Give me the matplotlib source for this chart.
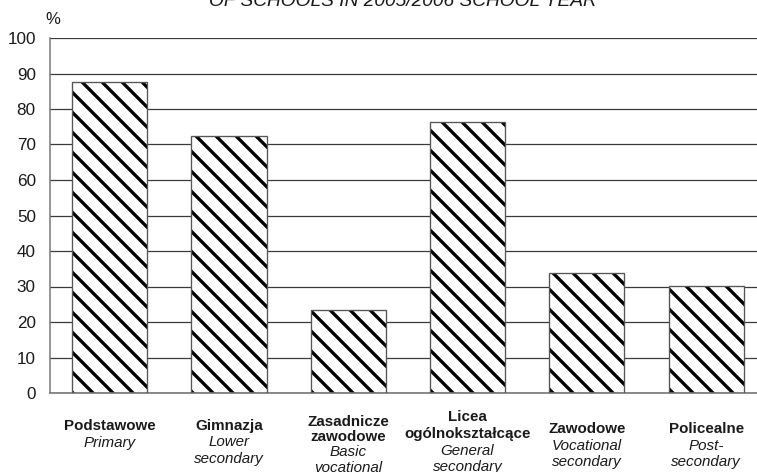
import matplotlib
matplotlib.use("Agg")
import matplotlib.pyplot as plt
from matplotlib.transforms import blended_transform_factory

# ---- data ----
categories_pl = ["Podstawowe", "Gimnazja", "Zasadnicze\nzawodowe", "Licea\nogólnokształcące",
                 "Zawodowe", "Policealne"]
categories_en = ["Primary", "Lower\nsecondary", "Basic\nvocational", "General\nsecondary",
                 "Vocational\nsecondary", "Post-\nsecondary"]
values = [87.6, 72.5, 23.4, 76.3, 33.9, 30.2]
y_ticks = [0, 10, 20, 30, 40, 50, 60, 70, 80, 90, 100]
title_text = "OF SCHOOLS IN 2005/2006 SCHOOL YEAR"
unit_label = "%"

# ---- style / layout ----
W, H, DPI = 757, 472, 120
plt.rcParams["font.family"] = ["Liberation Sans", "DejaVu Sans"]
plt.rcParams["hatch.linewidth"] = 2.0
plt.rcParams["hatch.color"] = "black"

fig = plt.figure(figsize=(W / DPI, H / DPI), dpi=DPI)
ax_left, ax_right, ax_top, ax_bottom = 50, 757, 38, 393
ax = fig.add_axes([ax_left / W, (H - ax_bottom) / H, (ax_right - ax_left) / W, (ax_bottom - ax_top) / H])

x = list(range(len(values)))
slot = 119.3
ax.set_xlim(-0.5, -0.5 + (ax_right - ax_left) / slot)
ax.set_ylim(0, 100)

ax.bar(x, values, width=0.63, color="white", edgecolor="black", hatch="\\\\", linewidth=0, zorder=2)
ax.bar(x, values, width=0.63, fill=False, edgecolor="#555555", linewidth=0.8, zorder=3)

ax.set_yticks(y_ticks)
ax.set_yticklabels([str(v) for v in y_ticks], fontsize=10.3, color="#1a1a1a")
ax.tick_params(axis="y", length=0, pad=8.5)
ax.set_xticks([])
ax.set_axisbelow(True)
ax.yaxis.grid(True, color="#3a3a3a", linewidth=0.75)

for s in ["top", "right"]:
    ax.spines[s].set_visible(False)
ax.spines["left"].set_color("#777777")
ax.spines["left"].set_linewidth(0.9)
ax.spines["bottom"].set_color("#777777")
ax.spines["bottom"].set_linewidth(1.0)

# unit label
fig.text(53 / W, 1 - 20 / H, unit_label, fontsize=10, ha="center", va="center", color="#1a1a1a")

# title (cut off at top in the reference)
fig.text(403 / W, 1 - 6 / H, title_text, fontsize=11.5, style="italic", ha="center",
         va="baseline", color="#1a1a1a")

# category labels: bold polish name over italic english name
trans = blended_transform_factory(ax.transData, fig.transFigure)
first_baselines = [430, 430, 426, 421, 433, 433]
line_steps = [16.5, 16.5, 15.2, 16.8, 16.5, 16.5]
for i in x:
    lines = [(t, "bold", "normal") for t in categories_pl[i].split("\n")] + \
            [(t, "normal", "italic") for t in categories_en[i].split("\n")]
    for j, (t, wt, st) in enumerate(lines):
        yb = first_baselines[i] + j * line_steps[i]
        ax.text(i, 1 - yb / H, t, transform=trans, ha="center", va="baseline",
                fontsize=9.1, fontweight=wt, style=st, color="#1a1a1a")

fig.savefig("out.png", dpi=DPI)
